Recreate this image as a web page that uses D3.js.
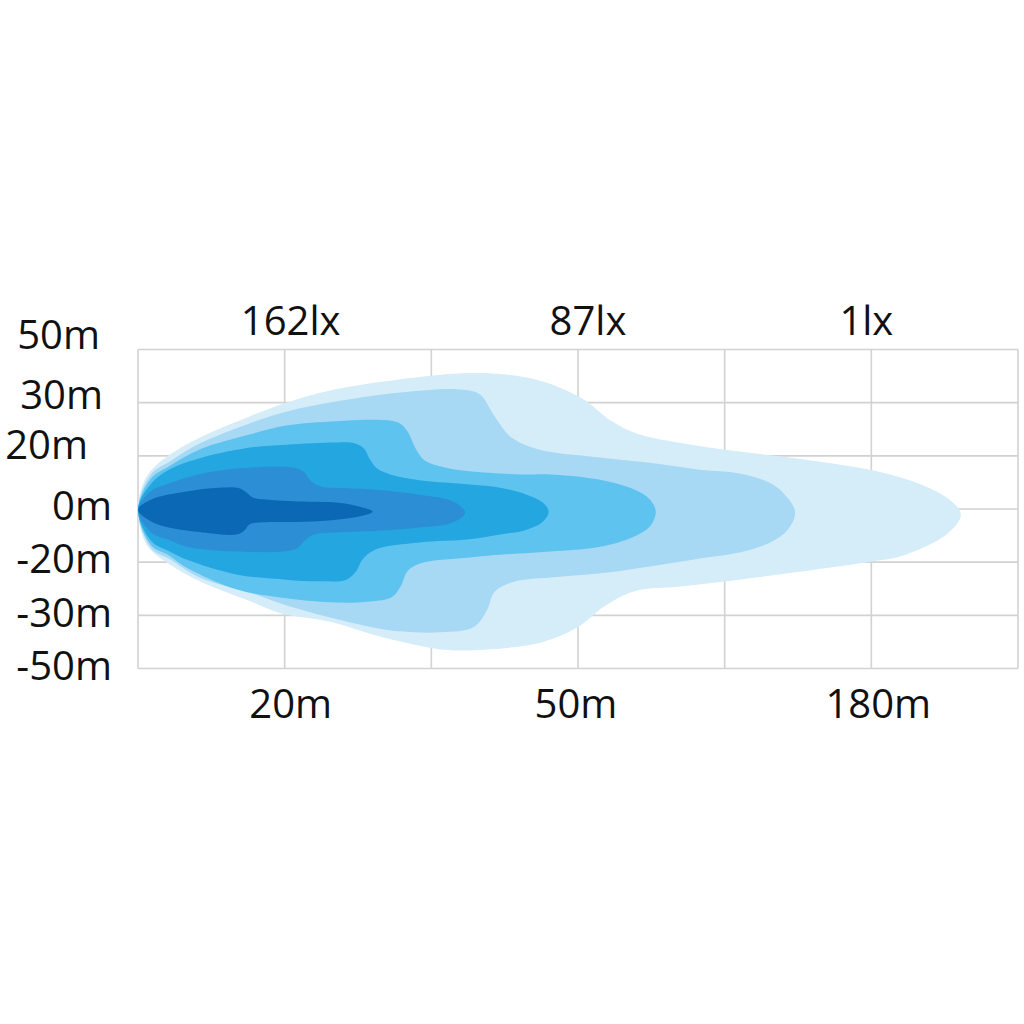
<!DOCTYPE html>
<html>
<head>
<meta charset="utf-8">
<script src="https://cdn.jsdelivr.net/npm/d3@7"></script>
<style>
  html, body { margin: 0; padding: 0; background: #ffffff; }
  svg { display: block; }
</style>
</head>
<body>
<svg id="chart" width="1024" height="1024"></svg>
<script>
// ---- DATA (grid units: 10 per column horizontally, 10 per row vertically) ----
const topLabels = ["162lx", "87lx", "1lx"];
const bottomLabels = ["20m", "50m", "180m"];
const labelColumns = [10, 30, 50];
const yTickLabels = ["50m", "30m", "20m", "0m", "-20m", "-30m", "-50m"];
const yTickRows = [30, 20, 10, 0, -10, -20, -30];

// isolux contours, outermost (lowest lux) first
const zone1 = [[0.1,2.6],[0.7,6.6],[2.1,10.1],[4.2,13.4],[7.6,17.4],[10.1,20.0],[13.1,22.3],[17.9,24.4],[21.9,25.5],[24.7,25.4],[26.9,24.5],[28.6,23.0],[30.4,20.6],[32.3,16.5],[34.0,14.2],[37.0,12.4],[39.9,11.2],[43.1,10.1],[46.5,8.9],[49.9,7.4],[52.6,5.4],[55.2,2.0],[56.1,-1.0],[55.2,-4.6],[52.0,-8.9],[49.9,-9.9],[45.1,-11.8],[41.0,-13.3],[37.0,-14.6],[33.8,-15.5],[31.8,-18.3],[30.0,-22.2],[27.5,-25.1],[24.0,-26.4],[21.5,-26.6],[19.9,-26.1],[16.5,-24.0],[13.1,-21.2],[9.7,-19.6],[7.6,-17.3],[4.2,-13.6],[2.1,-10.3],[0.7,-7.2],[0.1,-2.9],[0,-0.1]];
const zone2 = [[0,-0.1],[0.9,6.6],[2.2,9.0],[4.2,12.3],[7.6,16.1],[10.1,18.3],[13.5,20.2],[17.9,21.9],[21.9,22.5],[23.3,21.6],[24.3,17.5],[25.4,13.6],[27.2,11.3],[31.5,9.7],[34.9,8.7],[38.3,7.4],[41.0,6.7],[43.1,4.9],[44.1,2.7],[44.8,-0.5],[44.3,-3.9],[43.1,-6.3],[41.0,-8.2],[38.3,-9.3],[34.9,-10.8],[31.5,-12.1],[28.1,-12.9],[25.6,-13.7],[24.3,-15.6],[23.8,-19.0],[22.9,-22.2],[20.6,-23.2],[17.9,-23.0],[16.5,-22.5],[13.1,-20.4],[10.2,-18.2],[7.6,-15.7],[4.2,-12.9],[2.2,-9.5],[0.9,-7.4]];
const zone3 = [[0,-0.1],[0.9,5.8],[2.1,8.0],[4.2,11.2],[7.6,14.0],[10.1,15.7],[13.5,16.5],[15.8,16.8],[17.7,16.3],[18.4,14.5],[18.9,11.5],[19.5,9.2],[20.9,7.8],[22.6,7.1],[26.1,6.5],[28.1,6.5],[31.5,5.5],[33.8,3.7],[34.9,1.8],[35.3,-0.5],[34.9,-3.3],[33.8,-5.2],[31.5,-7.1],[28.1,-8.0],[24.7,-8.6],[22.6,-9.1],[19.4,-10.1],[18.4,-11.6],[17.9,-14.6],[17.3,-16.6],[15.8,-17.4],[13.5,-17.6],[10.1,-16.8],[6.7,-15.1],[3.3,-11.0],[2.1,-8.7],[0.9,-6.8]];
const zone4 = [[0,-0.1],[0.9,4.8],[2.1,7.4],[4.4,9.7],[7.8,11.6],[10.1,12.1],[13.5,12.5],[14.7,12.4],[15.4,11.4],[15.8,9.4],[16.3,7.6],[17.2,6.5],[19.2,5.4],[22.6,4.6],[24.7,4.0],[26.5,2.7],[27.6,1.2],[28.0,-0.5],[27.6,-2.4],[26.5,-3.9],[24.7,-4.8],[22.6,-5.7],[19.2,-6.3],[16.2,-7.6],[15.3,-9.5],[14.9,-11.6],[14.2,-13.3],[12.4,-13.6],[10.1,-13.3],[6.7,-12.3],[3.3,-9.5],[2.1,-7.9],[0.9,-6.0]];
const zone5 = [[0,-0.1],[0.9,3.4],[2.1,4.8],[4.4,6.7],[7.8,7.8],[10.6,7.8],[11.3,7.0],[11.8,5.2],[12.5,4.2],[13.5,4.0],[15.8,3.7],[19.2,2.7],[21.5,1.4],[22.3,-0.7],[21.5,-2.5],[19.2,-3.5],[15.8,-4.2],[13.5,-4.4],[12.0,-4.8],[11.4,-5.9],[10.9,-7.3],[10.2,-7.9],[6.7,-8.0],[3.3,-7.1],[2.1,-5.8],[0.9,-4.4]];
const zone6 = [[0,-0.1],[1.0,1.9],[3.3,3.3],[5.5,4.0],[6.9,3.9],[7.4,3.1],[7.8,2.2],[8.7,1.8],[11.3,1.4],[13.5,1.2],[14.7,0.7],[16.0,-0.5],[14.7,-1.6],[13.5,-2.0],[11.3,-2.4],[8.5,-2.5],[7.6,-2.9],[7.2,-4.2],[6.7,-4.8],[4.4,-4.4],[2.1,-3.5],[0.8,-2.2]];
const zones = [zone1, zone2, zone3, zone4, zone5, zone6];

// ---- STYLE / LAYOUT ----
const zoneColors = ["#d5ecf9", "#a7d8f4", "#5fc3ef", "#24a6e0", "#2c8fd6", "#0a68b4"];
const yLabelRight = [100, 103, 88, 112, 112, 112, 112];
const yLabelDy = [-1, 6, 3, 11, 11, 12, 11];
const topDx = [6, 10, -5];
const bottomDx = [6, -2, 7];

const svg = d3.select("#chart");
svg.append("rect").attr("width", 1024).attr("height", 1024).attr("fill", "#ffffff");

const x = d3.scaleLinear().domain([0, 60]).range([138, 1018]);
const y = d3.scaleLinear().domain([-30, 30]).range([668.5, 349.5]);

// grid
const grid = svg.append("g").attr("stroke", "#d2d2d2").attr("stroke-width", 1.6);
d3.range(0, 61, 10).forEach(v => {
  grid.append("line").attr("x1", x(v)).attr("x2", x(v)).attr("y1", y(30)).attr("y2", y(-30));
});
d3.range(-30, 31, 10).forEach(v => {
  grid.append("line").attr("x1", x(0)).attr("x2", x(60)).attr("y1", y(v)).attr("y2", y(v));
});

// contours
const line = d3.line()
  .x(d => x(d[0]))
  .y(d => y(d[1]))
  .curve(d3.curveCatmullRomClosed.alpha(0.5));

svg.append("g").selectAll("path")
  .data(zones)
  .join("path")
  .attr("d", line)
  .attr("fill", (d, i) => zoneColors[i])
  .attr("stroke", "none");

// text
const font = "'Open Sans', 'Noto Sans', sans-serif";
svg.append("g").selectAll("text")
  .data(yTickLabels)
  .join("text")
  .attr("x", (d, i) => yLabelRight[i])
  .attr("y", (d, i) => y(yTickRows[i]) + yLabelDy[i])
  .attr("text-anchor", "end")
  .attr("font-family", font)
  .attr("font-size", 40)
  .attr("fill", "#111111")
  .text(d => d);

svg.append("g").selectAll("text")
  .data(topLabels)
  .join("text")
  .attr("x", (d, i) => x(labelColumns[i]) + topDx[i])
  .attr("y", 335)
  .attr("text-anchor", "middle")
  .attr("font-family", font)
  .attr("font-size", 40)
  .attr("fill", "#111111")
  .text(d => d);

svg.append("g").selectAll("text")
  .data(bottomLabels)
  .join("text")
  .attr("x", (d, i) => x(labelColumns[i]) + bottomDx[i])
  .attr("y", 718)
  .attr("text-anchor", "middle")
  .attr("font-family", font)
  .attr("font-size", 40)
  .attr("fill", "#111111")
  .text(d => d);
</script>
</body>
</html>
